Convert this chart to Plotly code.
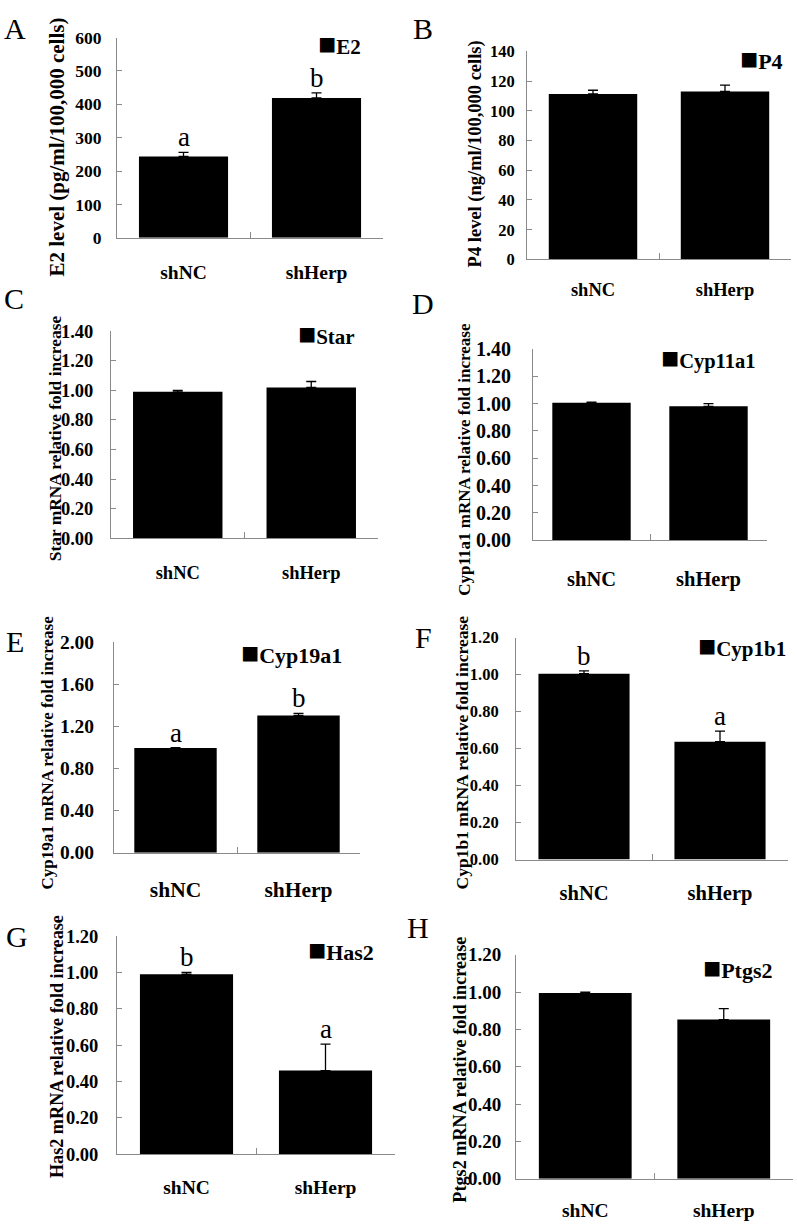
import plotly.graph_objects as go

# ---------------- data ----------------
categories = ["shNC", "shHerp"]
markers = ["E2", "P4", "Star", "Cyp11a1", "Cyp19a1", "Cyp1b1", "Has2", "Ptgs2"]
panel_labels = ["A", "B", "C", "D", "E", "F", "G", "H"]
y_titles = [
    "E2 level (pg/ml/100,000 cells)",
    "P4 level (ng/ml/100,000 cells)",
    "Star mRNA relative fold increase",
    "Cyp11a1 mRNA relative fold increase",
    "Cyp19a1 mRNA relative fold increase",
    "Cyp1b1 mRNA relative fold increase",
    "Has2 mRNA relative fold increase",
    "Ptgs2 mRNA relative fold increase",
]

e2_mean = [244, 419]
e2_err = [12, 15]
p4_mean = [111.3, 113.0]
p4_err = [2.5, 4.2]
star_mean = [0.99, 1.02]
star_err = [0.01, 0.04]
cyp11a1_mean = [1.005, 0.98]
cyp11a1_err = [0.005, 0.02]
cyp19a1_mean = [0.995, 1.305]
cyp19a1_err = [0.005, 0.02]
cyp1b1_mean = [1.005, 0.637]
cyp1b1_err = [0.015, 0.057]
has2_mean = [0.99, 0.46]
has2_err = [0.01, 0.145]
ptgs2_mean = [0.995, 0.853]
ptgs2_err = [0.005, 0.058]

means = [e2_mean, p4_mean, star_mean, cyp11a1_mean, cyp19a1_mean, cyp1b1_mean, has2_mean, ptgs2_mean]
errors = [e2_err, p4_err, star_err, cyp11a1_err, cyp19a1_err, cyp1b1_err, has2_err, ptgs2_err]
sig_letters = [["a", "b"], None, None, None, ["a", "b"], ["b", "a"], ["b", "a"], None]

y_max = [600, 140, 1.4, 1.4, 2.0, 1.2, 1.2, 1.2]
y_dtick = [100, 20, 0.2, 0.2, 0.4, 0.2, 0.2, 0.2]
y_format = ["d", "d", ".2f", ".2f", ".2f", ".2f", ".2f", ".2f"]

# ---------------- layout (page pixels) ----------------
W, H = 797, 1228


def px_x(p):
    return p / W


def px_y(p):
    return 1 - p / H


# plot boxes: left, right, top, bottom
boxes = [
    (117, 383, 27, 231),
    (527, 791, 41, 253),
    (111, 378, 326, 537),
    (533, 767, 344, 539),
    (114, 360, 643, 857),
    (516, 788, 638, 864),
    (117, 395, 942, 1164),
    (516, 793, 961, 1189),
]
tick_fs = [17.5, 16.5, 18.5, 20, 19.5, 16.5, 18.5, 19]
tick_gap = [11, 8, 13, 17, 15, 13, 14, 10]
xlab_fs = [19.5, 18.5, 18.5, 20.5, 21.5, 20.5, 19.5, 19.5]
xlab_gap = [17, 13, 17, 20, 18, 15, 15, 14]
title_fs = [21, 18.5, 17.4, 17, 17, 17.5, 18.2, 18.2]
title_pos = [(57, 139), (475, 146), (55, 435), (465, 457), (47, 755), (462, 755), (57, 1055), (460, 1078)]
legend_pos = [(317, 33), (739, 48), (297, 328), (660, 353), (240, 653), (697, 646), (307, 956), (702, 974)]
legend_fs = [21, 22, 21, 20.5, 22, 21, 22, 22]
letter_pos = [(3, 0), (412, 0), (3, 275), (411, 280), (5, 624), (414, 620), (5, 925), (406, 915)]

FONT = "Liberation Serif, Times New Roman, serif"
AXIS_COLOR = "#8a8a8a"

fig = go.Figure()
annotations = []

for i in range(8):
    n = "" if i == 0 else str(i + 1)
    xa, ya = "x" + n, "y" + n
    l, r, t, b = boxes[i]

    fig.add_trace(go.Bar(
        x=categories, y=means[i], name=markers[i],
        marker=dict(color="black", line=dict(width=0)),
        width=0.67,
        error_y=dict(type="data", array=errors[i], arrayminus=[0, 0],
                     symmetric=False, color="black", thickness=1.3, width=5),
        xaxis=xa, yaxis=ya, showlegend=False,
    ))

    fig.layout["xaxis" + n] = dict(
        domain=[px_x(l), px_x(r)], anchor=ya, type="category",
        range=[-0.5, 1.5], showline=True, linecolor=AXIS_COLOR, linewidth=1,
        ticks="inside", tickson="boundaries", ticklen=6, tickcolor=AXIS_COLOR,
        showgrid=False, zeroline=False, ticklabelstandoff=xlab_gap[i],
        tickfont=dict(family=FONT, size=xlab_fs[i], color="black", weight="bold"),
    )
    fig.layout["yaxis" + n] = dict(
        domain=[px_y(b), px_y(t)], anchor=xa,
        range=[0, y_max[i]], dtick=y_dtick[i], tick0=0, tickformat=y_format[i],
        showline=True, linecolor=AXIS_COLOR, linewidth=1,
        ticks="inside", ticklen=5, tickcolor=AXIS_COLOR,
        showgrid=False, zeroline=False, ticklabelstandoff=tick_gap[i],
        tickfont=dict(family=FONT, size=tick_fs[i], color="black", weight="bold"),
    )

    # y axis title
    cx, cy = title_pos[i]
    annotations.append(dict(
        text=y_titles[i], textangle=-90, xref="paper", yref="paper",
        x=px_x(cx), y=px_y(cy), xanchor="center", yanchor="middle", showarrow=False,
        font=dict(family=FONT, size=title_fs[i], color="black", weight="bold"),
    ))
    # legend key: square + series name
    lx, ly = legend_pos[i]
    annotations.append(dict(
        text="<span style='font-size:30px;font-weight:normal'>\u25A0</span>" + markers[i],
        xref="paper", yref="paper",
        x=px_x(lx), y=px_y(ly), xanchor="left", yanchor="middle", showarrow=False,
        borderpad=0, font=dict(family=FONT, size=legend_fs[i], color="black", weight="bold"),
    ))
    # panel letter
    px, py = letter_pos[i]
    annotations.append(dict(
        text=panel_labels[i], xref="paper", yref="paper",
        x=px_x(px), y=px_y(py), xanchor="left", yanchor="top", showarrow=False,
        borderpad=0, font=dict(family=FONT, size=30, color="black"),
    ))
    # significance letters
    if sig_letters[i]:
        for c, m, e, s in zip(categories, means[i], errors[i], sig_letters[i]):
            annotations.append(dict(
                text=s, xref=xa, yref=ya, x=c, y=m + e,
                xanchor="center", yanchor="bottom", yshift=-2, showarrow=False,
                font=dict(family=FONT, size=27, color="black"),
            ))

fig.update_layout(
    width=W, height=H, margin=dict(l=0, r=0, t=0, b=0),
    paper_bgcolor="white", plot_bgcolor="white",
    annotations=annotations,
)

# place the figure flush with the page corner (no default body margin)
fig.write_html(
    "out.html",
    config={"displayModeBar": False},
    post_script="document.body.style.margin='0';document.body.style.overflow='hidden';",
)
